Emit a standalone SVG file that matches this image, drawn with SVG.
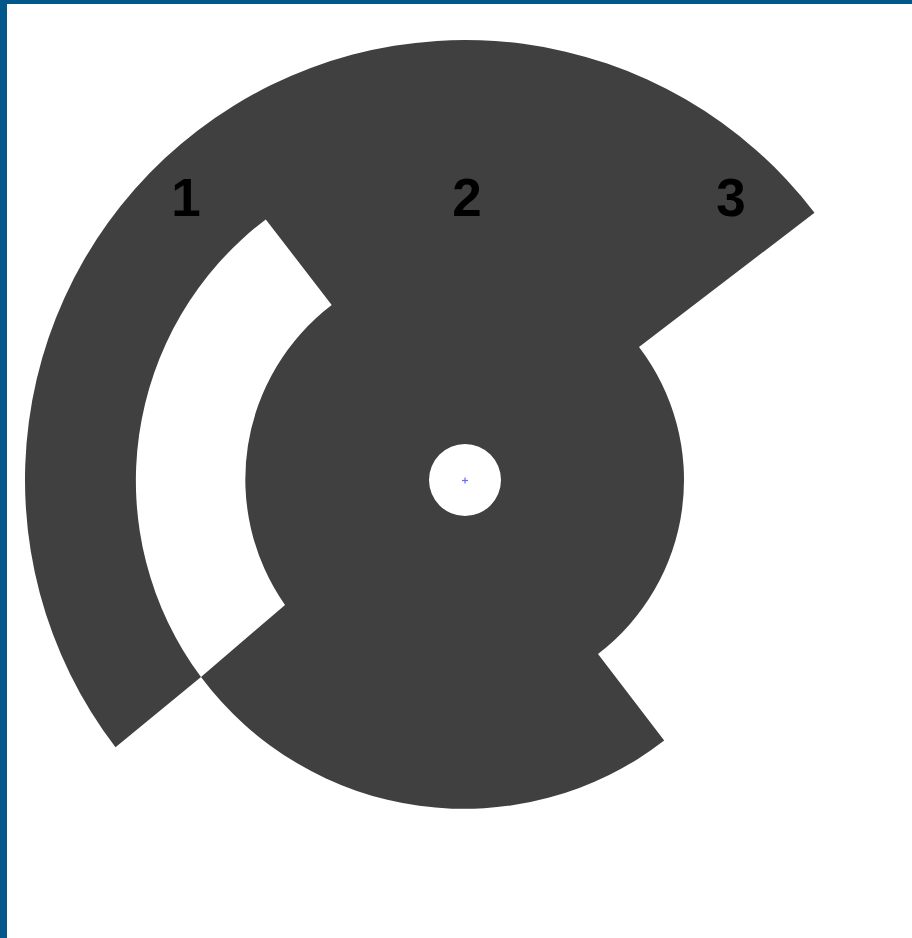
<svg xmlns="http://www.w3.org/2000/svg" width="912" height="938" viewBox="0 0 912 938">
  <style>
    .sector { fill: #404040; fill-rule: evenodd; }
    .label { font-family: "Liberation Sans", Arial, sans-serif; font-weight: bold; font-size: 53px; fill: #000000; text-anchor: middle; }
    .mark { stroke: #6a6aff; stroke-width: 1.2; fill: none; }
  </style>
  <rect x="0" y="0" width="912" height="938" fill="#ffffff"/>
  <g id="frame">
    <rect x="0" y="0" width="912" height="4" fill="#02578b"/>
    <rect x="0" y="0" width="7" height="938" fill="#02578b"/>
  </g>
  <g id="chart">
    <path class="sector" d="M 115.5 747.3 A 440 440 0 0 1 197.75 130.46 A 440 440 0 0 1 814.5 212.7 L 639 347 A 219 219 0 0 1 598 654 L 664.2 740.6 A 328 328 0 0 1 201 677 Z M 201 677 A 328 328 0 0 1 265.8 219.4 L 331.7 305 A 219 219 0 0 0 285 605 Z M 501 480 A 36 36 0 1 0 429 480 A 36 36 0 1 0 501 480 Z"/>
  </g>
  <g id="center-mark">
    <line class="mark" x1="462" y1="480.5" x2="468" y2="480.5"/>
    <line class="mark" x1="465" y1="477.5" x2="465" y2="483.5"/>
  </g>
  <g id="labels">
    <text class="label" x="186" y="216">1</text>
    <text class="label" x="467" y="216">2</text>
    <text class="label" x="731" y="216">3</text>
  </g>
</svg>
